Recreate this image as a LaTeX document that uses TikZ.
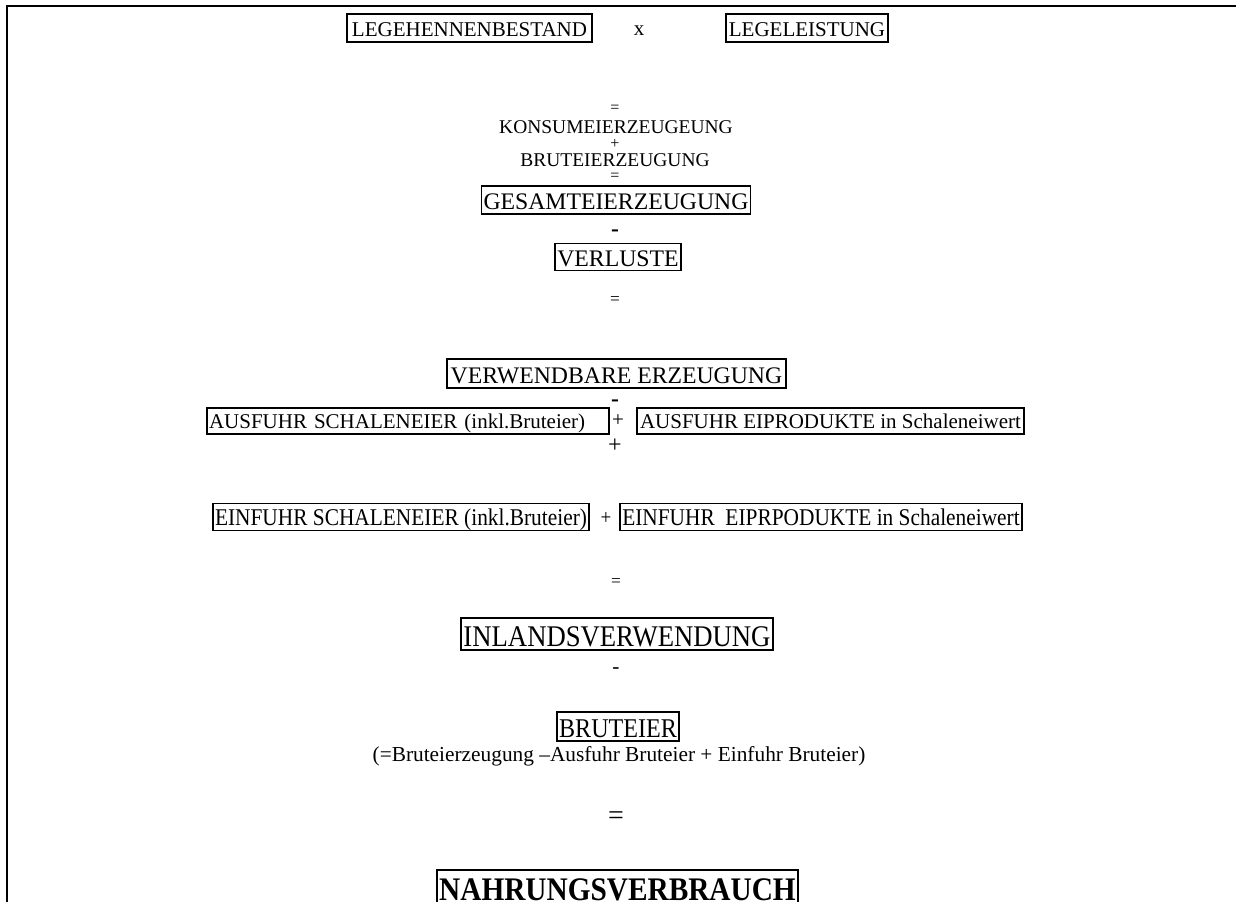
\documentclass[tikz,border=0pt]{standalone}
\usepackage{fontspec}
\usepackage{graphicx}
\setmainfont{Liberation Serif}
\newdimen\pxu \pxu=0.75pt
\newcommand\fs[1]{\fontsize{#1}{#1}\selectfont}
\newcommand\cnd[1]{\scalebox{0.89}[1]{#1}}
\tikzset{
  bx/.style={draw, line width=1.3pt, inner xsep=2\pxu, inner ysep=1\pxu},
  op/.style={inner sep=0pt},
}
\begin{document}
\begin{tikzpicture}[x=0.75pt,y=-0.75pt]
\useasboundingbox (0,0) rectangle (1236,902);
% frame
\draw[line width=1.5pt] (7,910) -- (7,6) -- (1240,6);
% top row
\node[bx, font=\fs{15.75}, text height=20\pxu, text depth=3\pxu, minimum width=245\pxu, minimum height=28\pxu] (legeh) at (469.5,28) {LEGEHENNENBESTAND};
\node[op, font=\fs{15.75}] (mal) at (639,31) {x};
\node[bx, font=\fs{15.75}, text height=20\pxu, text depth=3\pxu, minimum width=162\pxu, minimum height=28\pxu] (legel) at (807,28) {LEGELEISTUNG};
% middle stack
\node[op, font=\fs{12}] (eq1) at (615,109) {=};
\node[op, font=\fs{14.6}] (konsum) at (616,127) {KONSUMEIERZEUGEUNG};
\node[op, font=\fs{12}] (plus1) at (615,144) {+};
\node[op, font=\fs{14.6}] (brutez) at (615,160) {BRUTEIERZEUGUNG};
\node[op, font=\fs{12}] (eq2) at (615,177) {=};
\node[bx, font=\fs{17.8}, text height=22\pxu, text depth=3\pxu, minimum width=268\pxu, minimum height=28\pxu] (gesamt) at (616,200) {GESAMTEIERZEUGUNG};
\node[op, font=\fs{17.8}\bfseries] (minus1) at (615,233) {-};
\node[bx, font=\fs{17.8}, text height=22\pxu, text depth=3\pxu, minimum width=124\pxu, minimum height=26\pxu] (verluste) at (618,257) {VERLUSTE};
\node[op, font=\fs{13}] (eq3) at (615,301) {=};
\node[bx, font=\fs{17.8}, text height=22\pxu, text depth=3\pxu, minimum width=339\pxu, minimum height=29\pxu] (verwend) at (616.5,373.5) {VERWENDBARE ERZEUGUNG};
\node[op, font=\fs{17.8}\bfseries] (minus2) at (615,403) {-};
% export row
\node[bx, font=\fs{15.75}, text height=19\pxu, text depth=4\pxu, text width=398\pxu, align=left, minimum height=26\pxu] (ausS) at (408,421) {AUSFUHR SCHALENEIER (inkl.Bruteier)};
\node[op, font=\fs{15.75}] (plus2) at (618,421) {+};
\node[bx, font=\fs{15.75}, text height=19\pxu, text depth=4\pxu, minimum width=387\pxu, minimum height=26\pxu] (ausE) at (830.5,421) {AUSFUHR EIPRODUKTE in Schaleneiwert};
\node[op, font=\fs{18}] (plus3) at (615,446) {+};
% import row
\node[bx, font=\fs{18}, text height=21\pxu, text depth=4\pxu, minimum width=376\pxu, minimum height=26\pxu] (einS) at (401,517) {\cnd{EINFUHR SCHALENEIER (inkl.Bruteier)}};
\node[op, font=\fs{16}] (plus4) at (606,518) {\cnd{+}};
\node[bx, font=\fs{18}, text height=21\pxu, text depth=4\pxu, minimum width=398\pxu, minimum height=26\pxu] (einE) at (821,517) {\cnd{EINFUHR\ \ EIPRPODUKTE in Schaleneiwert}};
\node[op, font=\fs{13}] (eq4) at (616,583) {=};
\node[bx, font=\fs{22.5}, text height=27\pxu, text depth=3\pxu, minimum width=312\pxu, minimum height=32\pxu] (inland) at (617,634) {\cnd{INLANDSVERWENDUNG}};
\node[op, font=\fs{16}] (minus3) at (616,671) {-};
\node[bx, font=\fs{20.3}, text height=24\pxu, text depth=3\pxu, minimum width=122\pxu, minimum height=29\pxu] (brut) at (618,726.5) {\cnd{BRUTEIER}};
\node[op, font=\fs{16}] (paren) at (619,756) {(=Bruteierzeugung –Ausfuhr Bruteier + Einfuhr Bruteier)};
\node[op, font=\fs{21}] (eq5) at (616,818) {=};
\node[bx, font=\fs{24.7}\bfseries, text height=30\pxu, text depth=12\pxu, minimum width=361\pxu, anchor=north] (nahr) at (617.5,869) {\cnd{NAHRUNGSVERBRAUCH}};
\end{tikzpicture}
\end{document}
